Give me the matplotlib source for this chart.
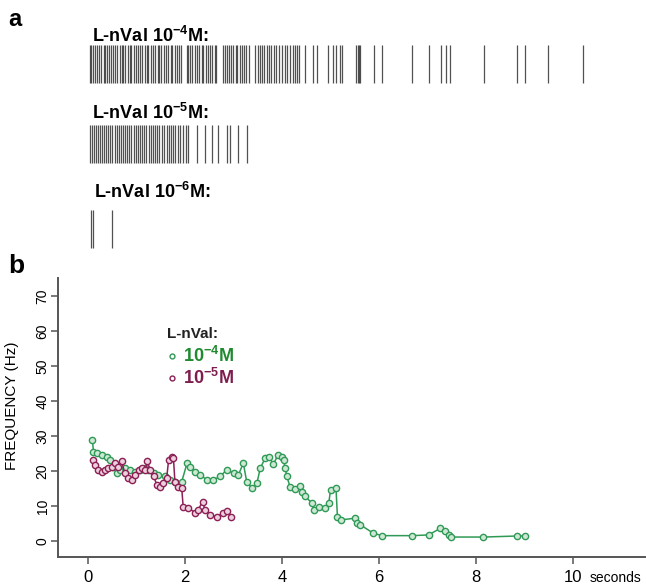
import numpy as np
import matplotlib.pyplot as plt

plt.rcParams['font.family'] = ['Liberation Sans', 'DejaVu Sans']
plt.rcParams['mathtext.fontset'] = 'custom'
plt.rcParams['mathtext.rm'] = 'Liberation Sans'
plt.rcParams['mathtext.bf'] = 'Liberation Sans:bold'

# ---- data ----
# spike times (s) for the three concentrations
spikes_1e4 = [0.04, 0.07, 0.11, 0.15, 0.19, 0.23, 0.27, 0.32, 0.35, 0.40, 0.44, 0.47, 0.52, 0.56,
              0.60, 0.65, 0.69, 0.72, 0.77, 0.82, 0.86, 0.89, 0.95, 0.99, 1.03, 1.08, 1.11, 1.17,
              1.21, 1.24, 1.30, 1.34, 1.38, 1.44, 1.47, 1.51, 1.57, 1.61, 1.65, 1.71, 1.74, 1.79,
              1.84, 1.88, 1.92, 2.03, 2.07, 2.10, 2.15, 2.21, 2.24, 2.29, 2.34, 2.37, 2.43, 2.47,
              2.52, 2.56, 2.61, 2.64, 2.78, 2.82, 2.86, 2.91, 2.95, 2.99, 3.04, 3.08, 3.13, 3.17,
              3.22, 3.26, 3.31, 3.45, 3.50, 3.54, 3.59, 3.63, 3.69, 3.73, 3.78, 3.84, 3.88, 3.94,
              3.99, 4.05, 4.11, 4.16, 4.22, 4.27, 4.31, 4.35, 4.47, 4.64, 4.72, 4.95, 5.05, 5.11,
              5.20, 5.24, 5.53, 5.56, 5.58, 5.61, 5.90, 6.06, 6.68, 7.03, 7.28, 7.38, 7.46, 8.16,
              8.85, 9.00, 9.48, 10.21]
spikes_1e5 = [0.04, 0.08, 0.12, 0.16, 0.20, 0.25, 0.29, 0.33, 0.37, 0.42, 0.46, 0.50, 0.55, 0.59,
              0.63, 0.68, 0.72, 0.76, 0.81, 0.85, 0.89, 0.94, 0.98, 1.02, 1.07, 1.11, 1.16, 1.20,
              1.25, 1.29, 1.34, 1.38, 1.43, 1.47, 1.52, 1.57, 1.62, 1.66, 1.71, 1.75, 1.80, 1.85,
              1.90, 1.96, 2.02, 2.06, 2.25, 2.41, 2.56, 2.68, 2.87, 2.93, 3.09, 3.28]
spikes_1e6 = [0.06, 0.10, 0.49]

# instantaneous frequency (Hz)
t_1e4 = [0.09, 0.11, 0.18, 0.28, 0.39, 0.45, 0.52, 0.59, 0.66, 0.76, 0.87, 0.97, 1.07, 1.18,
         1.24, 1.35, 1.45, 1.59, 1.69, 1.79, 1.93, 2.04, 2.10, 2.21, 2.31, 2.45, 2.58, 2.72,
         2.86, 3.00, 3.10, 3.20, 3.27, 3.38, 3.48, 3.55, 3.65, 3.72, 3.82, 3.92, 3.99, 4.03,
         4.06, 4.10, 4.16, 4.27, 4.37, 4.41, 4.47, 4.61, 4.65, 4.75, 4.89, 4.96, 5.00, 5.11,
         5.14, 5.21, 5.51, 5.54, 5.61, 5.88, 6.06, 6.67, 7.02, 7.26, 7.36, 7.43, 7.48, 8.15,
         8.85, 9.00]
f_1e4 = [28.9, 25.5, 25.0, 24.6, 23.9, 23.1, 21.2, 19.3, 20.3, 20.8, 20.3, 19.8, 20.3, 20.8,
         20.3, 19.3, 18.9, 18.4, 17.4, 16.9, 16.9, 22.2, 21.2, 19.8, 18.9, 17.4, 17.4, 18.4,
         20.3, 19.3, 18.9, 22.2, 16.9, 15.1, 16.5, 20.8, 23.6, 24.1, 22.0, 24.6, 24.1, 23.1,
         20.8, 18.4, 15.5, 14.8, 15.7, 14.1, 12.7, 10.9, 8.9, 9.6, 9.3, 10.8, 14.6, 15.1,
         6.9, 6.0, 6.5, 5.2, 4.6, 2.2, 1.5, 1.5, 1.7, 3.6, 2.7, 1.7, 1.1, 1.1,
         1.4, 1.4]
t_1e5 = [0.11, 0.14, 0.21, 0.28, 0.35, 0.42, 0.49, 0.56, 0.62, 0.69, 0.76, 0.83, 0.90, 0.97,
         1.04, 1.11, 1.18, 1.22, 1.28, 1.35, 1.42, 1.48, 1.55, 1.62, 1.66, 1.73, 1.76, 1.79,
         1.86, 1.93, 1.96, 2.07, 2.21, 2.27, 2.36, 2.41, 2.52, 2.65, 2.79, 2.86, 2.94]
f_1e5 = [23.1, 21.7, 20.3, 19.8, 20.3, 20.8, 21.2, 22.2, 21.2, 22.7, 19.3, 17.9, 17.4, 18.9,
         20.3, 20.8, 20.3, 22.7, 20.3, 18.4, 16.0, 15.5, 16.5, 17.9, 23.1, 24.1, 23.6, 16.9,
         15.5, 15.1, 9.8, 9.3, 8.1, 8.9, 11.2, 8.9, 7.4, 6.9, 7.9, 8.4, 6.9]

conc_exp = ['-4', '-5', '-6']

green = '#2f9a55'
purple = '#8c1f55'

W, H = 646, 587
fig = plt.figure(figsize=(W / 100, H / 100), dpi=100)


def fx(px):
    return px / W


def fy(py):
    return 1 - py / H


xlim = (-0.62, 11.48)

# ---- panel a: raster ----
ax_r = fig.add_axes([fx(58), fy(255), fx(645) - fx(58), fy(40) - fy(255)])
ax_r.set_xlim(xlim)
ax_r.set_ylim(255, 40)
ax_r.axis('off')
rows = [(45, 83), (125, 163), (210, 248)]
for spikes, (y0, y1) in zip([spikes_1e4, spikes_1e5, spikes_1e6], rows):
    ax_r.vlines(spikes, y0, y1, color='#333333', lw=0.9, alpha=0.85)

label_y = [36, 113, 192]
label_x = [92, 92, 94]
for e, lx, ly in zip(conc_exp, label_x, label_y):
    fig.text(fx(lx), fy(ly), r'L-nVal 10$^{\mathbf{' + e + r'}}$M:', fontsize=13,
             fontweight='bold', va='center', ha='left')

fig.text(fx(8), fy(19), 'a', fontsize=17, fontweight='bold', va='center', ha='left')
fig.text(fx(8), fy(266), 'b', fontsize=19, fontweight='bold', va='center', ha='left')

# ---- panel b: frequency ----
ax = fig.add_axes([fx(58), fy(557), fx(645) - fx(58), fy(278) - fy(557)])
ax.plot(t_1e4, f_1e4, '-o', color=green, lw=1.1, ms=4.5, mfc='#cfe8d6', mec=green, mew=1.0)
ax.plot(t_1e5, f_1e5, '-o', color=purple, lw=1.1, ms=4.5, mfc='#ecd0dc', mec=purple, mew=1.0)
ax.set_xlim(xlim)
ax.set_ylim(-4.6, 75.1)
for s in ['top', 'right']:
    ax.spines[s].set_visible(False)
for s in ['left', 'bottom']:
    ax.spines[s].set_color('#555555')
    ax.spines[s].set_linewidth(1.4)
ax.set_xticks([0, 2, 4, 6, 8, 10])
ax.set_xticklabels(['0', '2', '4', '6', '8', '10'], fontsize=12)
ax.set_yticks(range(0, 80, 10))
ax.set_yticklabels([str(v) for v in range(0, 80, 10)], fontsize=10, rotation=90, va='center')
ax.tick_params(axis='both', direction='out', length=5, width=1.1, color='#555555')
ax.tick_params(axis='x', pad=4)
ax.tick_params(axis='y', pad=1)
fig.text(fx(590), fy(578), 'seconds', fontsize=10, va='center', ha='left')
fig.text(fx(12), fy(406), 'FREQUENCY (Hz)', fontsize=11, rotation=90, va='center', ha='center')

# legend
fig.text(fx(167), fy(334), 'L-nVal:', fontsize=11, fontweight='bold', va='center', ha='left', color='#222222')
fig.lines.append(plt.Line2D([fx(172)], [fy(356)], transform=fig.transFigure, marker='o', ms=3.5,
                            mfc='none', mec=green, mew=1.0, ls=''))
fig.lines.append(plt.Line2D([fx(172)], [fy(378)], transform=fig.transFigure, marker='o', ms=3.5,
                            mfc='none', mec=purple, mew=1.0, ls=''))
fig.text(fx(183), fy(356), r'$\mathbf{10^{-4}M}$', fontsize=13, color='#1f8a2e', va='center', ha='left')
fig.text(fx(183), fy(378), r'$\mathbf{10^{-5}M}$', fontsize=13, color='#7e1d4e', va='center', ha='left')

fig.savefig('out.png', dpi=100)
